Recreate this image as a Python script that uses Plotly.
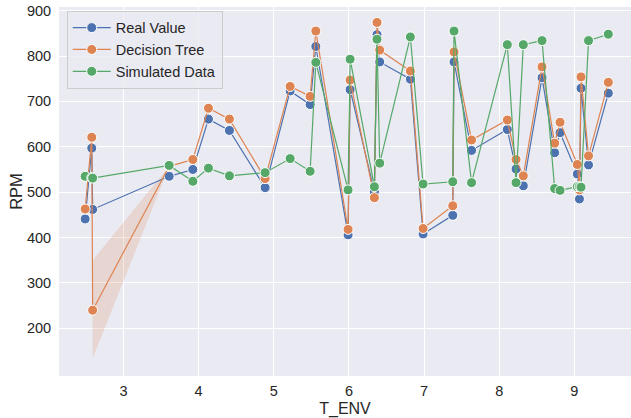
import plotly.graph_objects as go

t_env = [2.490, 2.578, 2.590, 3.608, 3.923, 4.131, 4.410, 4.885,
         5.218, 5.484, 5.560, 5.989, 6.016, 6.339, 6.374, 6.410,
         6.818, 6.987, 7.382, 7.399, 7.632, 8.108, 8.224, 8.321,
         8.570, 8.738, 8.810, 9.040, 9.068, 9.089, 9.189, 9.452]
real_value = [441, 597, 462, 535, 550, 661, 636, 510,
              723, 693, 821, 406, 726, 501, 847, 787,
              749, 408, 449, 787, 592, 638, 551, 514,
              752, 587, 631, 540, 485, 729, 560, 718]
decision_tree = [463, 621, 240, 557, 572, 685, 661, 530,
                 733, 711, 855, 418, 747, 488, 874, 813,
                 767, 420, 470, 809, 615, 659, 572, 536,
                 776, 608, 654, 561, 505, 754, 580, 742]
tree_ci_low = list(decision_tree)
tree_ci_high = list(decision_tree)
tree_ci_low[2] = 134
tree_ci_high[2] = 350
simulated = [535, 532, 531, 559, 524, 553, 536, 543,
             574, 546, 786, 505, 793, 512, 837, 564,
             842, 518, 523, 855, 521, 825, 521, 825,
             834, 508, 504, 512, 512, 511, 834, 848]

BLUE = "#4C72B0"
ORANGE = "#DD8452"
GREEN = "#55A868"
FONT = "Liberation Sans, Arial, sans-serif"

fig = go.Figure()

# confidence band for decision tree
fig.add_trace(go.Scatter(
    x=t_env + t_env[::-1],
    y=tree_ci_high + tree_ci_low[::-1],
    fill="toself", fillcolor="rgba(221,132,82,0.2)",
    line=dict(width=0), mode="lines", hoverinfo="skip", showlegend=False))

for name, vals, col in [("Real Value", real_value, BLUE),
                        ("Decision Tree", decision_tree, ORANGE),
                        ("Simulated Data", simulated, GREEN)]:
    fig.add_trace(go.Scatter(
        x=t_env, y=vals, name=name, mode="lines+markers",
        line=dict(color=col, width=1.2),
        marker=dict(color=col, size=10, line=dict(color="white", width=1))))

fig.update_layout(
    width=631, height=418,
    margin=dict(l=59, r=0, t=7, b=35),
    paper_bgcolor="white", plot_bgcolor="#EAEAF2",
    font=dict(family=FONT, size=15, color="#262626"),
    legend=dict(x=0.0135, y=0.99, xanchor="left", yanchor="top",
                bgcolor="rgba(234,234,242,0.8)", bordercolor="#CCCCCC",
                borderwidth=1, font=dict(size=14.5, color="#262626"),
                tracegroupgap=0, itemwidth=38),
    xaxis=dict(range=[2.142, 9.754], tickvals=[3, 4, 5, 6, 7, 8, 9],
               showgrid=True, gridcolor="white", gridwidth=1, zeroline=False,
               showline=False, ticks="outside", ticklen=2, tickcolor="rgba(0,0,0,0)",
               tickfont=dict(size=14.5),
               title=dict(text="T_ENV", font=dict(size=16), standoff=7)),
    yaxis=dict(range=[95, 908], tickvals=[200, 300, 400, 500, 600, 700, 800, 900],
               showgrid=True, gridcolor="white", gridwidth=1, zeroline=False,
               showline=False, ticks="outside", ticklen=4, tickcolor="rgba(0,0,0,0)",
               tickfont=dict(size=14.5),
               title=dict(text="RPM", font=dict(size=16.5), standoff=0)),
)

fig.write_html("out.html")
